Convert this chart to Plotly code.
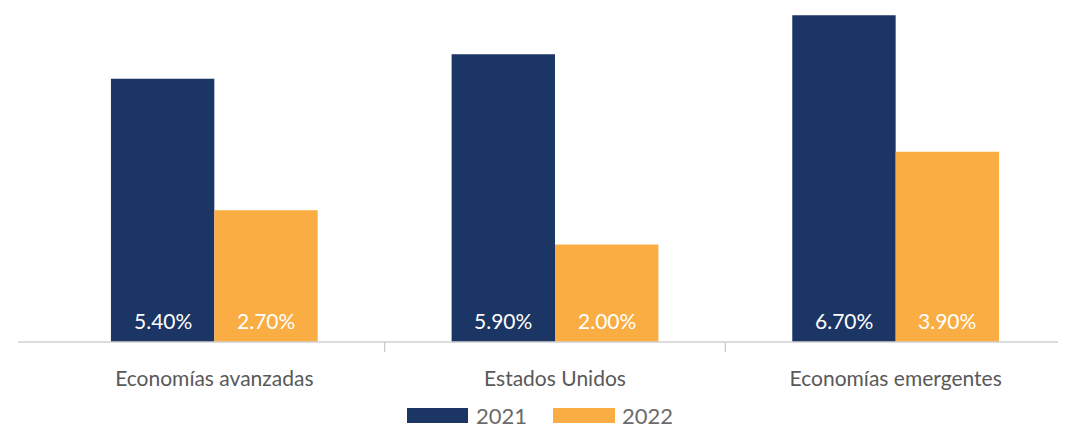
import plotly.graph_objects as go

categories = ["Economías avanzadas", "Estados Unidos", "Economías emergentes"]
series_names = ["2021", "2022"]
values_2021 = [5.40, 5.90, 6.70]
values_2022 = [2.70, 2.00, 3.90]
colors = ["#1b3564", "#f9ad42"]

# page body has an 8px margin: work in reference pixel coordinates and shift
OFF = 8
W, H = 1066 - OFF, 428 - OFF
plot_bottom_px = 342 - OFF
FONT = "Lato"
BARGAP = 0.393
cat_w_px = (W - (44 - OFF)) / len(categories)
bar_w_px = cat_w_px * (1 - BARGAP) / 2

fig = go.Figure()
for name, vals, col in zip(series_names, [values_2021, values_2022], colors):
    fig.add_trace(go.Bar(
        x=categories, y=vals, name=name, marker=dict(color=col, line=dict(width=0)),
        showlegend=False, hoverinfo="x+y",
    ))

annotations = []
for i, (vals, sign) in enumerate(zip([values_2021, values_2022], [-1, 1])):
    for c, v in zip(categories, vals):
        annotations.append(dict(text=f"{v:.2f}%", x=c, y=0, xref="x", yref="y",
                                xshift=sign * bar_w_px / 2, yshift=7,
                                xanchor="center", yanchor="bottom", showarrow=False,
                                font=dict(color="white", size=21, family=FONT)))

shapes = []
# axis line
shapes.append(dict(type="line", xref="paper", yref="paper", x0=(18 - OFF) / W, x1=1, y0=0, y1=0,
                   line=dict(color="#d0d0d0", width=1.5), layer="above"))
# category boundary ticks
for b in [0.5, 1.5]:
    shapes.append(dict(type="line", xref="x", yref="paper", x0=b, x1=b, y0=0, y1=-10 / plot_bottom_px,
                       line=dict(color="#c8c8c8", width=1.2)))

def py(p):
    return (plot_bottom_px - (p - OFF)) / plot_bottom_px

def px(p):
    return (p - OFF) / W

legend_items = [(407, 468, 474), (553, 615, 620)]
for (sx0, sx1, tx), name, col in zip(legend_items, series_names, colors):
    shapes.append(dict(type="rect", xref="paper", yref="paper", x0=px(sx0), x1=px(sx1),
                       y0=py(423), y1=py(408), fillcolor=col, line=dict(width=0)))
    annotations.append(dict(text=name, xref="paper", yref="paper", x=px(tx), y=py(415.5),
                            xanchor="left", yanchor="middle", showarrow=False,
                            font=dict(size=22, color="#6b6b6b", family=FONT)))

fig.update_layout(
    width=W, height=H,
    margin=dict(l=0, r=0, t=0, b=H - plot_bottom_px, pad=0),
    barmode="group", bargap=BARGAP, bargroupgap=0,
    plot_bgcolor="white", paper_bgcolor="white",
    xaxis=dict(domain=[px(44), 1], showgrid=False, zeroline=False, showline=False,
               ticks="outside", ticklen=18, tickcolor="rgba(0,0,0,0)",
               tickfont=dict(size=21, color="#595959", family=FONT)),
    yaxis=dict(range=[0, 6.85], visible=False, showgrid=False, zeroline=False),
    shapes=shapes, annotations=annotations,
    showlegend=False,
)

fig.write_html("out.html")
